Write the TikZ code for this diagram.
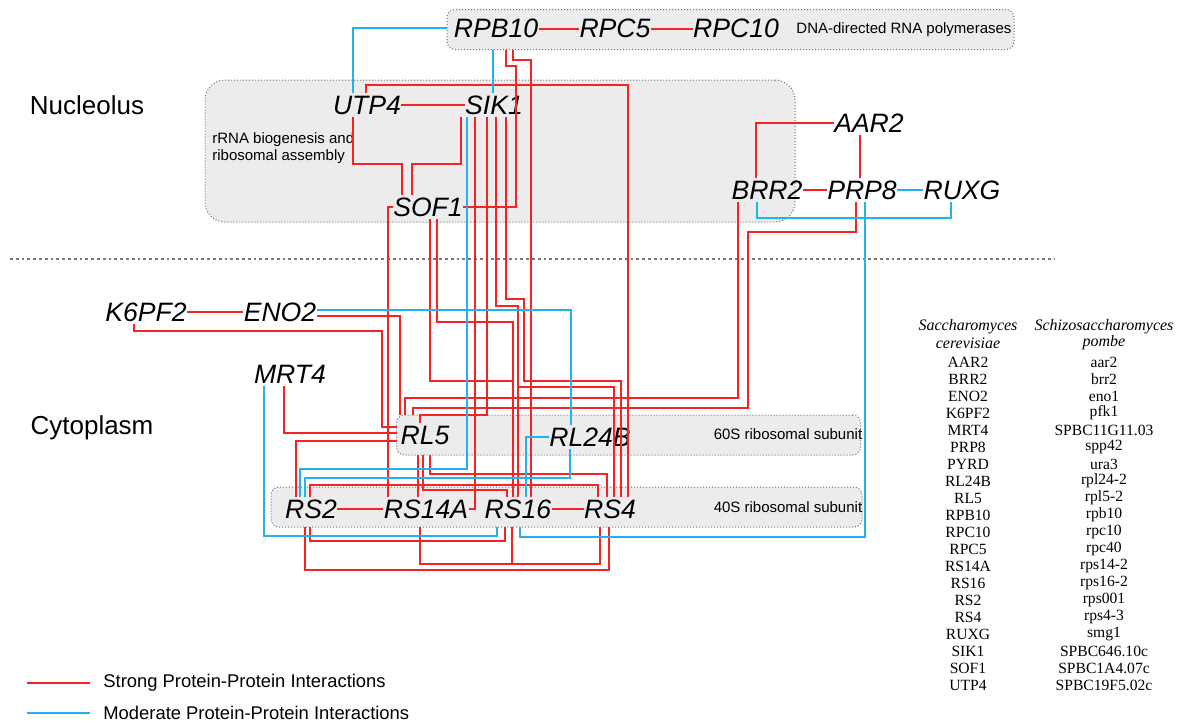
\documentclass[tikz,border=0pt]{standalone}
\usepackage{fontspec}
\setmainfont{Liberation Serif}
\newfontfamily\lsans{Liberation Sans}
\definecolor{strongred}{RGB}{245,35,35}
\definecolor{modblue}{RGB}{35,178,235}
\definecolor{boxfill}{RGB}{236,236,236}
\definecolor{sepgray}{RGB}{120,120,120}
\begin{document}
\begin{tikzpicture}[x=0.5pt,y=-0.5pt,
  prot/.style={font=\lsans\itshape\fontsize{13.3}{15}\selectfont, text height=9.4pt, text depth=0pt, inner xsep=0pt, inner ysep=1.2pt},
  regionlab/.style={font=\lsans\fontsize{13}{15}\selectfont, inner sep=0pt},
  smalllab/.style={font=\lsans\fontsize{7.5}{8.5}\selectfont, inner sep=0pt},
  leglab/.style={font=\lsans\fontsize{9.2}{11}\selectfont, inner sep=0pt, anchor=west},
  grp/.style={draw=black!55, densely dotted, line width=0.5pt, fill=boxfill, inner sep=0pt, outer sep=0pt},
  strong/.style={draw=strongred, line width=1pt},
  moderate/.style={draw=modblue, line width=1pt},
  tabhead/.style={font=\itshape\fontsize{8}{9}\selectfont, inner sep=0pt},
  tabcell/.style={font=\fontsize{7.8}{9}\selectfont, inner sep=0pt},
  seplin/.style={draw=sepgray, line width=1.4pt, dash pattern=on 1.4pt off 1.5pt}]
\useasboundingbox (0,0) rectangle (1180,723);

% group boxes
\node[grp, rounded corners=4pt, minimum width=283.5pt, minimum height=20pt] (polbox) at (730.5,29.5) {};
\node[grp, rounded corners=10pt, minimum width=295pt, minimum height=71pt] (nucbox) at (500,151) {};
\node[grp, rounded corners=4pt, minimum width=232pt, minimum height=20pt] (box60) at (628.5,435) {};
\node[grp, rounded corners=4pt, minimum width=295.5pt, minimum height=20pt] (box40) at (566.5,507) {};

% separator
\coordinate (sepL) at (10,259);
\coordinate (sepR) at (1055,259);
\draw[seplin] (sepL) -- (sepR);

% region labels
\node[regionlab] (nucl) at (87,105) {Nucleolus};
\node[regionlab] (cyto) at (92,428) {Cytoplasm};
\node[smalllab] (dnalab) at (904,30) {DNA-directed RNA polymerases};
\node[smalllab, anchor=west, align=left] (rrnalab) at (212,148) {rRNA biogenesis and\\ribosomal assembly};
\node[smalllab] (lab60) at (788,434) {60S ribosomal subunit};
\node[smalllab] (lab40) at (788,507) {40S ribosomal subunit};

% proteins
\node[prot] (rpb10) at (496,28.5) {RPB10};
\node[prot] (rpc5) at (615,28.5) {RPC5};
\node[prot] (rpc10) at (736,28.5) {RPC10};
\node[prot] (utp4) at (367,105) {UTP4};
\node[prot] (sik1) at (494,105) {SIK1};
\node[prot] (sof1) at (428,207) {SOF1};
\node[prot] (aar2) at (869,123) {AAR2};
\node[prot] (brr2) at (767,190) {BRR2};
\node[prot] (prp8) at (862,190) {PRP8};
\node[prot] (ruxg) at (962,190) {RUXG};
\node[prot] (k6pf2) at (146,312) {K6PF2};
\node[prot] (eno2) at (280,312) {ENO2};
\node[prot] (mrt4) at (290,374) {MRT4};
\node[prot] (rl5) at (425,435) {RL5};
\node[prot] (rl24b) at (590,437) {RL24B};
\node[prot] (rs2) at (311,509) {RS2};
\node[prot] (rs14a) at (426,509) {RS14A};
\node[prot] (rs16) at (518,509) {RS16};
\node[prot] (rs4) at (610,509) {RS4};

% strong interactions
\draw[strong] (rpb10.east) -- (rpc5.west);
\draw[strong] (rpc5.east) -- (rpc10.west);
\draw[strong] (utp4.east) -- (sik1.west);
\draw[strong] (brr2.east) -- (prp8.west);
\draw[strong] (aar2.west) -| (756,0 |- brr2.north);
\draw[strong] (860,0 |- aar2.south) -- (860,0 |- prp8.north);
\draw[strong] (k6pf2.east) -- (eno2.west);
\draw[strong] (134,0 |- k6pf2.south) |- (382,331) |- (box60.west |- 0,427);
\draw[strong] (eno2.east |- 0,316) -| (400,0 |- box60.north);
\draw[strong] (284,0 |- mrt4.south) |- (box60.west |- 0,433);
\draw[strong] (box60.west |- 0,441) -| (296,0 |- rs2.north);
\draw[strong] (sof1.west) -| (388,0 |- rs14a.north);
\draw[strong] (353,0 |- utp4.south) |- (402,164) -- (402,0 |- sof1.north);
\draw[strong] (461,0 |- sik1.south) |- (412,164) -- (412,0 |- sof1.north);
\draw[strong] (506,0 |- polbox.south) |- (516,66) |- (sof1.east);
\draw[strong] (513,0 |- polbox.south) |- (531,60) -- (531,0 |- rs16.north);
\draw[strong] (366,0 |- utp4.north) |- (628,85) -- (628,0 |- rs4.north);
\draw[strong] (475,0 |- sik1.south) |- (rs14a.east);
\draw[strong] (487,0 |- sik1.south) |- (420,415) -- (420,0 |- rl5.north);
\draw[strong] (496,0 |- sik1.south) |- (518,306) -- (518,0 |- rs16.north);
\draw[strong] (518,387) -| (614,0 |- rs4.north);
\draw[strong] (506,0 |- sik1.south) |- (524,299) |- (621,381) -- (621,0 |- rs4.north);
\draw[strong] (437,0 |- sof1.south) |- (513,322) -- (513,0 |- rs16.north);
\draw[strong] (430,0 |- sof1.south) |- (513,381);
\draw[strong] (738,0 |- brr2.south) |- (405,398) -- (405,0 |- box60.north);
\draw[strong] (856,0 |- prp8.south) |- (748,232) |- (413,408) -- (413,0 |- box60.north);
\draw[strong] (418,0 |- box60.south) -- (418,0 |- rs14a.north);
\draw[strong] (423,0 |- box60.south) |- (507,490) -- (507,0 |- rs16.north);
\draw[strong] (430,0 |- box60.south) |- (607,474) -- (607,0 |- rs4.north);
\draw[strong] (310,0 |- rs2.north) |- (598,485) -- (598,0 |- rs4.north);
\draw[strong] (rs2.east) -- (rs14a.west);
\draw[strong] (rs16.east) -- (rs4.west);
\draw[strong] (305,0 |- box40.south) |- (609,570) -- (609,0 |- box40.south);
\draw[strong] (310,0 |- box40.south) |- (505,541) -- (505,0 |- box40.south);
\draw[strong] (420,0 |- box40.south) |- (600,564) -- (600,0 |- box40.south);
\draw[strong] (512,0 |- box40.south) -- (512,564);

% moderate interactions
\draw[moderate] (polbox.west |- 0,28) -| (353,0 |- utp4.north);
\draw[moderate] (493,0 |- polbox.south) -- (493,0 |- sik1.north);
\draw[moderate] (467,0 |- sik1.south) |- (300,469) -- (300,0 |- rs2.north);
\draw[moderate] (570,0 |- rl24b.south) |- (305,478) -- (305,0 |- rs2.north);
\draw[moderate] (eno2.east |- 0,310) -| (571,0 |- rl24b.north);
\draw[moderate] (rl24b.west) -| (526,0 |- rs16.north);
\draw[moderate] (264,0 |- mrt4.south) |- (497,536) -- (497,0 |- box40.south);
\draw[moderate] (865,0 |- prp8.south) |- (520,537) -- (520,0 |- box40.south);
\draw[moderate] (prp8.east) -- (ruxg.west);
\draw[moderate] (757,0 |- brr2.south) |- (951,218) -- (951,0 |- ruxg.south);

% legend
\coordinate (lgsA) at (27,683);
\coordinate (lgsB) at (90,683);
\coordinate (lgmA) at (27,713);
\coordinate (lgmB) at (90,713);
\draw[strong] (lgsA) -- (lgsB);
\draw[moderate] (lgmA) -- (lgmB);
\node[leglab] (legs) at (103,683) {Strong Protein-Protein Interactions};
\node[leglab] (legm) at (103,713) {Moderate Protein-Protein Interactions};

% table
\node[tabhead] (ha1) at (968,327) {Saccharomyces};
\node[tabhead] (ha2) at (968,343) {cerevisiae};
\node[tabhead] (hb1) at (1104,327) {Schizosaccharomyces};
\node[tabhead] (hb2) at (1104,343) {pombe};
\foreach \a/\b [count=\i] in {AAR2/aar2, BRR2/brr2, ENO2/eno1, K6PF2/pfk1, MRT4/SPBC11G11.03, PRP8/spp42, PYRD/ura3, RL24B/rpl24-2, RL5/rpl5-2, RPB10/rpb10, RPC10/rpc10, RPC5/rpc40, RS14A/rps14-2, RS16/rps16-2, RS2/rps001, RS4/rps4-3, RUXG/smg1, SIK1/SPBC646.10c, SOF1/SPBC1A4.07c, UTP4/SPBC19F5.02c}{
  \node[tabcell] (ta\i) at (968,{345+17*\i}) {\a};
  \node[tabcell] (tb\i) at (1104,{345+17*\i}) {\b};
}
\end{tikzpicture}
\end{document}
